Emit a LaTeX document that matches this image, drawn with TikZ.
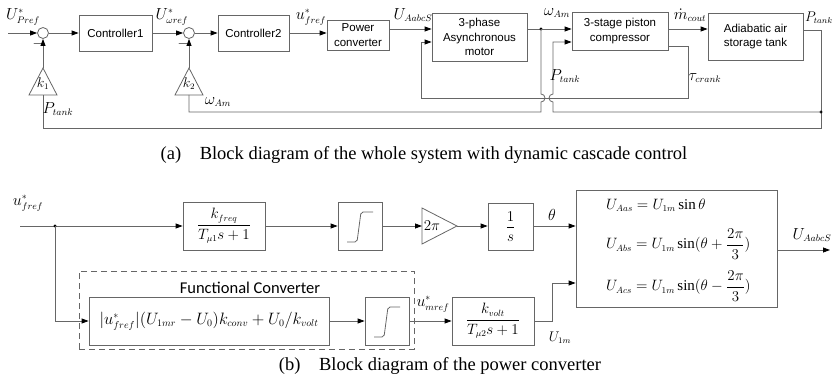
\RequirePackage{fix-cm}
\documentclass[tikz,border=0pt]{standalone}
\usepackage{fontspec}
\setmainfont{Liberation Serif}
\setsansfont{Liberation Sans}
\newfontfamily\calib{Carlito}
\usetikzlibrary{arrows.meta}
\DeclareMathSizes{16}{16}{9.5}{7}
\DeclareMathSizes{15}{15}{9}{7}
\DeclareMathSizes{14}{14}{8.5}{6.5}
\DeclareMathSizes{16.5}{16.5}{10}{7.5}
\begin{document}
\begin{tikzpicture}[x=1pt,y=-1pt,
  wire/.style={draw=black!60, line width=0.8pt},
  arr/.style={wire, -{Triangle[length=7pt,width=5pt,color=black]}},
  blk/.style={wire, rectangle, inner sep=0pt, align=center, font=\sffamily\fontsize{11.5}{14.5}\selectfont},
  blkm/.style={wire, rectangle, inner sep=0pt, align=center, font=\fontsize{15}{17}\selectfont},
  sumc/.style={wire, circle, minimum size=11pt, inner sep=0pt},
  lab/.style={inner sep=0pt, font=\fontsize{16}{18}\selectfont},
  labs/.style={inner sep=0pt, font=\fontsize{14}{16}\selectfont},
  eqn/.style={inner sep=0pt, anchor=west, font=\fontsize{15}{17}\selectfont},
  captxt/.style={inner sep=0pt, font=\fontsize{18.5}{20}\selectfont},
  jdot/.style={fill=black}
]
\useasboundingbox (0,0) rectangle (834,382);

% ---------------- (a) ----------------
\node[sumc] (s1) at (43,33) {};
\node[blk, minimum width=73pt, minimum height=36pt] (c1) at (115.5,33) {Controller1};
\node[sumc] (s2) at (189,33) {};
\node[blk, minimum width=71pt, minimum height=36pt] (c2) at (253.5,33) {Controller2};
\node[blk, minimum width=62pt, minimum height=30pt] (pc) at (358,35) {Power\\converter};
\node[blk, minimum width=95pt, minimum height=48pt] (mot) at (479.5,37) {3-phase\\Asynchronous\\motor};
\node[blk, minimum width=96pt, minimum height=38pt] (cmp) at (620,31) {3-stage piston\\compressor};
\node[blk, minimum width=95pt, minimum height=47pt] (tank) at (755.5,36.5) {Adiabatic air\\storage tank};

\coordinate (in1) at (8,33);
\coordinate (wd) at (541,29);
\coordinate (tk1) at (821,30);
\coordinate (tkd) at (821,112);
\coordinate (tk2) at (821,128);
\coordinate (k1a) at (43,68);
\coordinate (k1b) at (43,95);
\coordinate (k2a) at (189,68);
\coordinate (k2b) at (189,95);
\coordinate (wfb) at (541,112);

% gains k1, k2
\draw[wire] (29,95) -- (57,95) -- (k1a) -- cycle;
\node[labs] (k1) at (43,84) {$k_1$};
\draw[wire] (175,95) -- (203,95) -- (k2a) -- cycle;
\node[labs] (k2) at (189,84) {$k_2$};

% forward path
\draw[arr] (in1) -- (s1);
\draw[arr] (s1) -- (c1);
\draw[arr] (c1) -- (s2);
\draw[arr] (s2) -- (c2);
\draw[arr] (c2.east) -- ([yshift=2pt]pc.west);
\draw[arr] ([yshift=6pt]pc.east) -- ([yshift=8pt]mot.west);
\draw[wire] ([yshift=8pt]mot.east) -- (wd);
\fill[jdot] (wd) circle (1.7pt);
\draw[arr] (wd) -- ([yshift=2pt]cmp.west);
\draw[arr] ([yshift=2pt]cmp.east) -- ([yshift=7.5pt]tank.west);
\draw[wire] ([yshift=6.5pt]tank.east) -- (tk1) -- (tk2) -- (k1b |- tk2) -- (k1b);
\fill[jdot] (tkd) circle (1.7pt);
\draw[arr] (k1a) -- (s1);
\draw[arr] (k2a) -- (s2);

% P_tank to compressor
\draw[arr] (tkd) -- (553,112) -- (553,102) arc[start angle=270, end angle=90, radius=4pt] -- (553,42) -- ([yshift=-11pt]cmp.west);
% omega feedback
\draw[wire] (wd) -- (541,94) arc[start angle=90, end angle=-90, radius=4pt] -- (wfb) -- (k2b |- wfb) -- (k2b);
% torque feedback
\draw[arr] ([yshift=-15pt]cmp.east) -- (688,46) -- (688,98) -- (421,98) -- (421,42) -- ([yshift=-5pt]mot.west);

% labels (a)
\node[lab] (lU1) at (23,17) {$U^{*}_{Pref}$};
\node[lab] (lU2) at (172,17) {$U^{*}_{\omega ref}$};
\node[lab] (lu3) at (311,17) {$u^{*}_{fref}$};
\node[lab] (lU4) at (413,15) {$U_{AabcS}$};
\node[lab] (lw1) at (557,13) {$\omega_{Am}$};
\node[lab] (lm) at (690,15) {$\dot m_{cout}$};
\node[labs, anchor=east] (lP1) at (833,18) {$P_{tank}$};
\node[lab] (lP2) at (565,76) {$P_{tank}$};
\node[lab] (ltau) at (705,78) {$\tau_{crank}$};
\node[lab] (lw2) at (218,102) {$\omega_{Am}$};
\node[lab] (lP3) at (58,109) {$P_{tank}$};
\node[labs] (m1) at (38,44) {$-$};
\node[labs] (m2) at (183,44) {$-$};

\node[captxt] (capa) at (424,155) {(a)\quad Block diagram of the whole system with dynamic cascade control};

% ---------------- (b) ----------------
\coordinate (bin) at (20,226);
\coordinate (bd) at (55,226);
\node[blkm, minimum width=82pt, minimum height=48pt] (kf) at (224,226) {$\displaystyle\frac{k_{freq}}{T_{\mu1}s+1}$};
\node[blkm, minimum width=44pt, minimum height=48pt] (sat1) at (360,226) {};
\draw[wire, rounded corners=2pt] ([shift={(-13pt,-16pt)}]sat1.center) -- ([shift={(-3pt,-16pt)}]sat1.center) -- ([shift={(1pt,14pt)}]sat1.center) -- ([shift={(13pt,14pt)}]sat1.center);
\coordinate (gl) at (422,226);
\coordinate (ga) at (457,226);
\draw[wire] (422,208) -- (ga) -- (422,244) -- cycle;
\node[blkm, draw=none] (g) at (432,226) {$2\pi$};
\node[blkm, minimum width=45pt, minimum height=47pt] (integ) at (510.5,226.5) {$\displaystyle\frac{1}{s}$};
\node[wire, rectangle, minimum width=201pt, minimum height=117pt, inner sep=0pt] (big) at (676.5,248.5) {};
\node[eqn] (e1) at (606,205) {$U_{Aas}=U_{1m}\sin\theta$};
\node[eqn] (e2) at (606,244) {$U_{Abs}=U_{1m}\sin(\theta+\displaystyle\frac{2\pi}{3})$};
\node[eqn] (e3) at (606,286) {$U_{Acs}=U_{1m}\sin(\theta-\displaystyle\frac{2\pi}{3})$};

\node[draw=black!60, line width=0.8pt, dash pattern=on 6pt off 4pt, rectangle, minimum width=335pt, minimum height=78pt, inner sep=0pt] (fcbox) at (246.5,310) {};
\node[inner sep=0pt, font=\calib\fontsize{16.5}{18}\selectfont] (fclab) at (250,288) {Functional Converter};
\node[blkm, font=\fontsize{16.5}{18}\selectfont, minimum width=240pt, minimum height=48pt] (fc) at (209,321) {$\Bigl|u^{*}_{fref}\Bigr|(U_{1mr}-U_0)k_{conv}+U_0/k_{volt}$};
\node[blkm, minimum width=44pt, minimum height=48pt] (sat2) at (387,321) {};
\draw[wire, rounded corners=2pt] ([shift={(-13pt,-16pt)}]sat2.center) -- ([shift={(-3pt,-16pt)}]sat2.center) -- ([shift={(1pt,14pt)}]sat2.center) -- ([shift={(13pt,14pt)}]sat2.center);
\node[blkm, minimum width=82pt, minimum height=48pt] (kv) at (493,321) {$\displaystyle\frac{k_{volt}}{T_{\mu2}s+1}$};
\coordinate (bout) at (830,250);

\draw[arr] (bin) -- (kf);
\fill[jdot] (bd) circle (1.7pt);
\draw[arr] (bd) |- (fc.west);
\draw[arr] (kf) -- (sat1);
\draw[arr] (sat1) -- (gl);
\draw[arr] (ga) -- (integ.west |- ga);
\draw[arr] (integ.east |- ga) -- (big.west |- ga);
\draw[arr] (fc) -- (sat2);
\draw[arr] (sat2) -- (kv);
\draw[arr] (kv.east) -- ++(18pt,0) |- ([yshift=-34.5pt]big.west);
\draw[arr] (big.east |- bout) -- (bout);

% labels (b)
\node[lab] (lub) at (28,203) {$u^{*}_{fref}$};
\node[lab] (lth) at (552,215) {$\theta$};
\node[lab] (lum) at (433,304) {$u^{*}_{mref}$};
\node[labs] (l1m) at (560,338) {$U_{1m}$};
\node[lab] (lUo) at (812,235) {$U_{AabcS}$};

\node[captxt] (capb) at (440,366) {(b)\quad Block diagram of the power converter};
\end{tikzpicture}
\end{document}
